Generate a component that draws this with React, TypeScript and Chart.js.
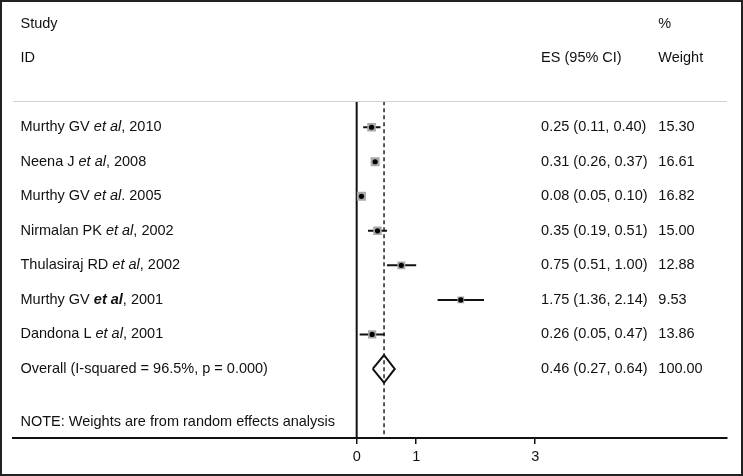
import React, { useEffect, useRef } from "react";
import { Chart, registerables } from "chart.js";

Chart.register(...registerables);

// ---- Data ----
const studyAuthors = ["Murthy GV", "Neena J", "Murthy GV", "Nirmalan PK", "Thulasiraj RD", "Murthy GV", "Dandona L"];
const studyYears = [", 2010", ", 2008", ". 2005", ", 2002", ", 2002", ", 2001", ", 2001"];
const etAlBold = [false, false, false, false, false, true, false];
const esValues = [0.25, 0.31, 0.08, 0.35, 0.75, 1.75, 0.26];
const ciLower = [0.11, 0.26, 0.05, 0.19, 0.51, 1.36, 0.05];
const ciUpper = [0.40, 0.37, 0.10, 0.51, 1.00, 2.14, 0.47];
const weights = [15.30, 16.61, 16.82, 15.00, 12.88, 9.53, 13.86];

const overallLabel = "Overall (I-squared = 96.5%, p = 0.000)";
const overallES = 0.46;
const overallLower = 0.27;
const overallUpper = 0.64;
const overallWeight = 100.0;

const xTicks = [0, 1, 3];
const noteText = "NOTE: Weights are from random effects analysis";

// ---- Layout constants (rows in data units) ----
const X_MIN = -5.776;
const X_MAX = 6.224;
const Y_MIN = -3.5;
const Y_MAX = 9;
const OVERALL_ROW = studyAuthors.length;
const SEP_ROW = -0.753;
const NOTE_ROW = 8.55;
const COL_LABEL = -5.65;
const COL_ES = 3.1;
const COL_WT = 5.07;

const FONT = '"Liberation Sans", Arial, sans-serif';
const FS = 14.5;

export default function App() {
  const ref = useRef<HTMLCanvasElement | null>(null);

  useEffect(() => {
    document.body.style.margin = "0";
    const canvas = ref.current;
    if (!canvas) return;

    const ciDatasets = esValues.map((_, i) => ({
      type: "scatter" as const,
      data: [
        { x: ciLower[i], y: i },
        { x: ciUpper[i], y: i },
      ],
      showLine: true,
      borderColor: "#111",
      borderWidth: 2,
      pointRadius: 0,
      order: 2,
    }));

    const textPlugin = {
      id: "forestText",
      afterDraw(chart: any) {
        const ctx = chart.ctx as CanvasRenderingContext2D;
        const xs = chart.scales.x;
        const ys = chart.scales.y;
        const ca = chart.chartArea;
        ctx.save();
        // separator line
        ctx.strokeStyle = "#d0d0d0";
        ctx.lineWidth = 1;
        ctx.beginPath();
        const sy = Math.round(ys.getPixelForValue(SEP_ROW)) + 0.5;
        ctx.moveTo(ca.left, sy);
        ctx.lineTo(ca.right, sy);
        ctx.stroke();

        ctx.fillStyle = "#111";
        ctx.textBaseline = "middle";
        ctx.textAlign = "left";
        const put = (t: string, xv: number, row: number, style = "") => {
          ctx.font = `${style}${FS}px ${FONT}`;
          ctx.fillText(t, xs.getPixelForValue(xv), ys.getPixelForValue(row));
        };
        put("Study", COL_LABEL, -3);
        put("ID", COL_LABEL, -2);
        put("ES (95% CI)", COL_ES, -2);
        put("%", COL_WT, -3);
        put("Weight", COL_WT, -2);

        studyAuthors.forEach((a, i) => {
          const y = ys.getPixelForValue(i);
          let x = xs.getPixelForValue(COL_LABEL);
          const segs: [string, string][] = [
            [a + " ", ""],
            ["et al", etAlBold[i] ? "italic bold " : "italic "],
            [studyYears[i], ""],
          ];
          segs.forEach(([t, st]) => {
            ctx.font = `${st}${FS}px ${FONT}`;
            ctx.fillText(t, x, y);
            x += ctx.measureText(t).width;
          });
          put(`${esValues[i].toFixed(2)} (${ciLower[i].toFixed(2)}, ${ciUpper[i].toFixed(2)})`, COL_ES, i);
          put(weights[i].toFixed(2), COL_WT, i);
        });
        put(overallLabel, COL_LABEL, OVERALL_ROW);
        put(`${overallES.toFixed(2)} (${overallLower.toFixed(2)}, ${overallUpper.toFixed(2)})`, COL_ES, OVERALL_ROW);
        put(overallWeight.toFixed(2), COL_WT, OVERALL_ROW);
        put(noteText, COL_LABEL, NOTE_ROW);

        // outer frame
        ctx.strokeStyle = "#222";
        ctx.lineWidth = 2;
        ctx.strokeRect(1, 1, chart.width - 2, chart.height - 2);
        ctx.restore();
      },
    };

    const chart = new Chart(canvas, {
      type: "scatter",
      data: {
        datasets: [
          {
            data: esValues.map((v, i) => ({ x: v, y: i })),
            pointStyle: "circle",
            pointRadius: 2.6,
            backgroundColor: "#000",
            borderWidth: 0,
            order: 0,
          },
          {
            data: esValues.map((v, i) => ({ x: v, y: i })),
            pointStyle: "rect",
            pointRadius: weights.map((w) => 1.56 * Math.sqrt(w)),
            backgroundColor: "#a8a8a8",
            borderWidth: 0,
            order: 1,
          },
          ...ciDatasets,
          {
            data: [
              { x: overallLower, y: OVERALL_ROW },
              { x: overallES, y: OVERALL_ROW - 0.4 },
              { x: overallUpper, y: OVERALL_ROW },
              { x: overallES, y: OVERALL_ROW + 0.4 },
              { x: overallLower, y: OVERALL_ROW },
            ],
            showLine: true,
            borderColor: "#111",
            borderWidth: 2,
            pointRadius: 0,
            order: 1,
          },
          {
            data: [
              { x: 0, y: SEP_ROW },
              { x: 0, y: Y_MAX },
            ],
            showLine: true,
            borderColor: "#111",
            borderWidth: 2,
            pointRadius: 0,
            order: 4,
          },
          {
            data: [
              { x: overallES, y: SEP_ROW },
              { x: overallES, y: Y_MAX },
            ],
            showLine: true,
            borderColor: "#222",
            borderWidth: 1.5,
            borderDash: [4, 3],
            pointRadius: 0,
            order: 5,
          },
        ] as any,
      },
      options: {
        animation: false,
        responsive: false,
        events: [],
        layout: { padding: { left: 13, right: 16, top: 3.5, bottom: 6.6 } },
        plugins: { legend: { display: false }, tooltip: { enabled: false } },
        scales: {
          x: {
            type: "linear",
            min: X_MIN,
            max: X_MAX,
            afterBuildTicks: (scale: any) => {
              scale.ticks = xTicks.map((v) => ({ value: v }));
            },
            grid: {
              drawOnChartArea: false,
              drawTicks: true,
              tickLength: 6,
              color: "#111",
              lineWidth: 1.5,
            },
            border: { display: true, color: "#111", width: 2 },
            ticks: {
              color: "#111",
              font: { family: FONT, size: FS },
              padding: 4,
              maxRotation: 0,
              autoSkip: false,
            },
          },
          y: {
            type: "linear",
            min: Y_MIN,
            max: Y_MAX,
            reverse: true,
            display: false,
          },
        },
      },
      plugins: [textPlugin],
    } as any);

    return () => chart.destroy();
  }, []);

  return (
    <div style={{ width: 743, height: 476 }}>
      <canvas ref={ref} width={743} height={476} style={{ display: "block" }} />
    </div>
  );
}
